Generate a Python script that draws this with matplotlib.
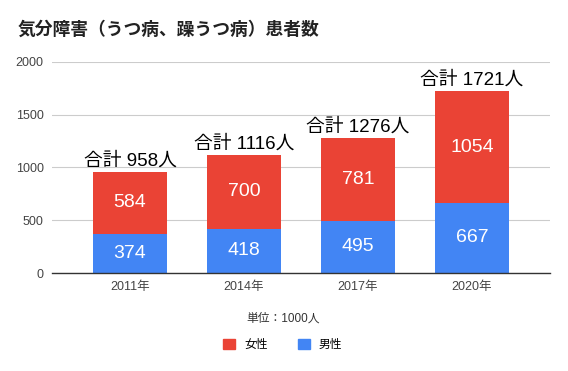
import matplotlib
matplotlib.use("Agg")
import matplotlib.pyplot as plt
from matplotlib.patches import Patch

plt.rcParams['font.family'] = ['Liberation Sans', 'Noto Sans CJK JP', 'DejaVu Sans']

years = ["2011年", "2014年", "2017年", "2020年"]
male = [374, 418, 495, 667]
female = [584, 700, 781, 1054]
totals = [958, 1116, 1276, 1721]
yticks = [0, 500, 1000, 1500, 2000]

fig = plt.figure(figsize=(5.68, 3.71), dpi=100)
ax = fig.add_axes([52/568, 1-273/371, 498/568, 211/371])

x = list(range(len(years)))
blue = "#4285F4"
red = "#EA4335"
ax.bar(x, male, width=0.65, color=blue, zorder=3)
ax.bar(x, female, width=0.65, bottom=male, color=red, zorder=3)

for i in x:
    ax.text(i, male[i] / 2, str(male[i]), ha="center", va="center",
            color="white", fontsize=14, zorder=4)
    ax.text(i, male[i] + female[i] / 2, str(female[i]), ha="center", va="center",
            color="white", fontsize=14, zorder=4)
    ax.text(i, totals[i] + 25, f"合計 {totals[i]}人", ha="center", va="bottom",
            color="black", fontsize=13.5, zorder=4)

ax.set_xlim(-0.684, 3.684)
ax.set_ylim(0, 2000)
ax.set_yticks(yticks)
ax.set_xticks(x)
ax.set_xticklabels(years)
ax.tick_params(axis="both", length=0, labelsize=9, colors="#444444")
ax.tick_params(axis="y", pad=6)
ax.tick_params(axis="x", pad=6)
ax.grid(axis="y", color="#cccccc", linewidth=0.8, zorder=0)
for s in ["top", "right", "left"]:
    ax.spines[s].set_visible(False)
ax.spines["bottom"].set_color("#333333")
ax.spines["bottom"].set_linewidth(1)
ax.spines["bottom"].set_zorder(5)

fig.text(18/568, 1-30/371, "気分障害（うつ病、躁うつ病）患者数", fontsize=12.8,
         fontweight="bold", ha="left", va="center", color="#222222")
fig.text(283/568, 1-319/371, "単位：1000人", fontsize=8.5, ha="center", va="center",
         color="#333333")

handles = [Patch(color=red, label="女性"), Patch(color=blue, label="男性")]
fig.legend(handles=handles, loc="center", bbox_to_anchor=(283/568, 1-345/371),
           ncol=2, frameon=False, fontsize=8.5, handlelength=1.0, handleheight=1.0,
           columnspacing=2.5, handletextpad=0.8)

fig.savefig("out.png", dpi=100, facecolor="white")
